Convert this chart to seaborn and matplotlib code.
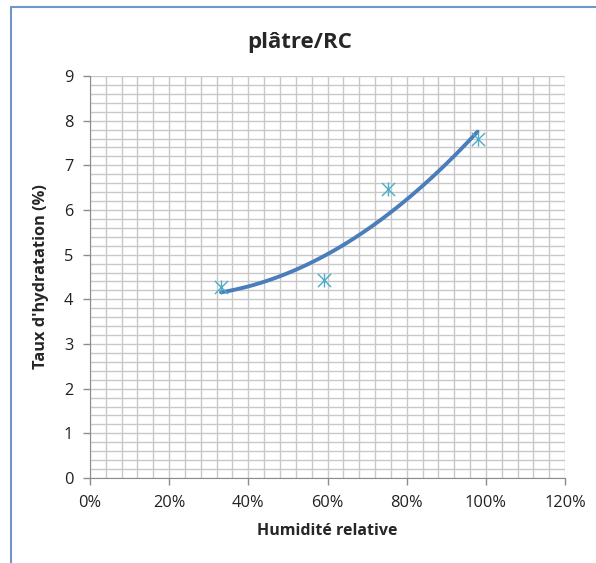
import numpy as np
import pandas as pd
import matplotlib.pyplot as plt
import seaborn as sns
from matplotlib.ticker import MultipleLocator, PercentFormatter
from matplotlib.lines import Line2D

humidite = [0.331, 0.592, 0.752, 0.979]
hydratation = [4.28, 4.43, 6.47, 7.60]

titre = "plâtre/RC"
label_x = "Humidité relative"
label_y = "Taux d'hydratation (%)"

# Courbe de tendance polynomiale (ordre 2) calculée à partir des points
coef = np.polyfit(humidite, hydratation, 2)
x_tend = np.linspace(min(humidite), max(humidite), 100)
df_tend = pd.DataFrame({"x": x_tend, "y": np.polyval(coef, x_tend)})
df_pts = pd.DataFrame({"x": humidite, "y": hydratation})

sns.set_style("white")
plt.rcParams["font.family"] = ["Open Sans", "DejaVu Sans"]

fig = plt.figure(figsize=(5.96, 5.63), dpi=100)
ax = fig.add_axes([0.151, 0.151, 0.797, 0.714])

sns.lineplot(data=df_tend, x="x", y="y", ax=ax, color="#4A7EBB", linewidth=2.8,
             solid_capstyle="round", zorder=3)
for m in ["x", "|"]:
    sns.scatterplot(data=df_pts, x="x", y="y", ax=ax, marker=m, s=90,
                    color="#4BACC6", linewidth=1.0, zorder=4)

ax.set_xlim(0, 1.2)
ax.set_ylim(0, 9)
ax.xaxis.set_major_locator(MultipleLocator(0.2))
ax.xaxis.set_minor_locator(MultipleLocator(0.04))
ax.yaxis.set_major_locator(MultipleLocator(1))
ax.yaxis.set_minor_locator(MultipleLocator(0.2))
ax.xaxis.set_major_formatter(PercentFormatter(1.0, decimals=0))
ax.grid(which="both", color="#C8C8C8", linewidth=1.0)
ax.set_axisbelow(True)

for s in ["top", "right"]:
    ax.spines[s].set_visible(False)
for s in ["left", "bottom"]:
    ax.spines[s].set_color("#8C8C8C")
ax.tick_params(which="major", direction="out", length=5, width=1, color="#8C8C8C",
               labelsize=11.8, labelcolor="#222222", left=True, bottom=True, pad=7)
ax.tick_params(which="minor", length=0)

ax.set_xlabel(label_x, fontsize=11.5, fontweight="bold", labelpad=9)
ax.set_ylabel(label_y, fontsize=11.8, fontweight="bold", labelpad=11)
fig.text(0.503, 0.925, titre, ha="center", va="center", fontsize=16, fontweight="bold")

# Bordure bleue de la zone de graphique
bord = "#6F96CA"
fig.add_artist(Line2D([0.019, 0.019], [0.0, 0.987], color=bord, linewidth=1.5))
fig.add_artist(Line2D([0.019, 1.0], [0.987, 0.987], color=bord, linewidth=1.5))

fig.savefig("out.png", dpi=100)
